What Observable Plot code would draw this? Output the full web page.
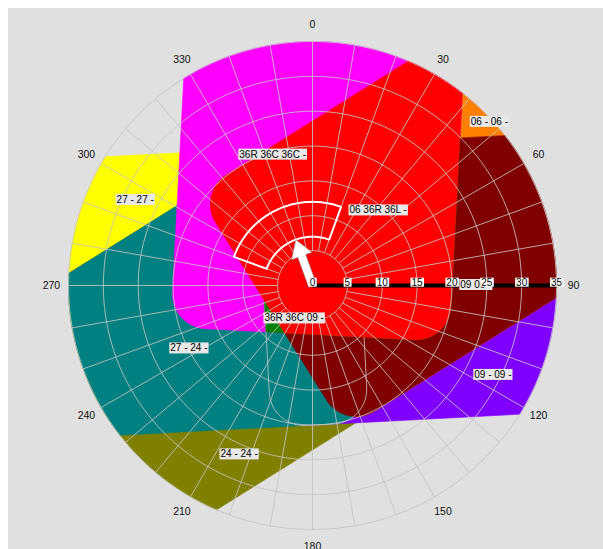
<!DOCTYPE html>
<html>
<head>
<meta charset="utf-8">
<script src="https://cdn.jsdelivr.net/npm/d3@7"></script>
<script src="https://cdn.jsdelivr.net/npm/@observablehq/plot@0.6"></script>
<style>
html, body { margin: 0; padding: 0; background: #ffffff; overflow: hidden; }
#chart { position: absolute; left: 8px; top: 8px; }
</style>
</head>
<body>
<div id="chart"></div>
<script>
// ---------------- data ----------------
const runwayNames = ["36", "06", "09", "24", "27"];
const runwayHeadings = [3, 58, 87, 238, 267];      // true headings (deg)
const crosswindLimit = 20;                          // kt
const tailwindLimit = 7;                            // kt
const cornerRadius = 5;                             // kt
const maxSpeed = 35;                                // kt (outer ring)

// zones in drawing order (lowest preference first)
const zoneLabels  = ["27 - 27 -", "24 - 24 -", "09 - 09 -", "06 - 06 -", "27 - 24 -", "36R 36C 36C -", "09 06 -", "36R 36C 09 -", "06 36R 36L -"];
const zoneRunways = [["27"], ["24"], ["09"], ["06"], ["27", "24"], ["36"], ["09", "06"], ["36", "09"], ["06", "36"]];
const zoneColors  = ["#ffff00", "#808000", "#8000ff", "#ff8000", "#008080", "#ff00ff", "#800000", "#008000", "#ff0000"];
const zoneLabelX  = [-28.1, -13.2, 23.2, 22.7, -20.4, -10.5, 21.2, -6.9, 5.3];   // kt east
const zoneLabelY  = [12.3, -24.2, -12.8, 23.5, -9.0, 18.8, 0.1, -4.7, 10.8];     // kt north
const outlineRunways = ["09", "27"];   // faint outline drawn under the top zones
const outlineAfterZone = 6;

// current wind
const windDirection = 340, windSpeed = 7;
const windDirFrom = 290, windDirTo = 20, windSpeedMin = 7, windSpeedMax = 12;

// axes / grid
const speedTicks = [0, 5, 10, 15, 20, 25, 30, 35];
const directionTicks = [0, 30, 60, 90, 120, 150, 180, 210, 240, 270, 300, 330];
const gridCircles = [5, 10, 15, 20, 25, 30, 35];
const gridSpokes = d3.range(0, 360, 10);
const innerSpokeRadius = 5;
const directionLabelRadius = 37.45;

// ---------------- geometry helpers ----------------
const rad = d => d * Math.PI / 180;
const polar = (dir, spd) => [spd * Math.sin(rad(dir)), spd * Math.cos(rad(dir))];

function runwayZone(heading) {
  const c = crosswindLimit, t = tailwindLimit, r = cornerRadius, H = 80;
  const uv = [[H, -c]];
  for (let a = -90; a >= -180; a -= 5) uv.push([-t + r + r * Math.cos(rad(a)), -c + r + r * Math.sin(rad(a))]);
  for (let a = 180; a >= 90; a -= 5) uv.push([-t + r + r * Math.cos(rad(a)), c - r + r * Math.sin(rad(a))]);
  uv.push([H, c]);
  const s = Math.sin(rad(heading)), co = Math.cos(rad(heading));
  return uv.map(([u, v]) => [u * s + v * co, u * co - v * s]);
}
function area(p) {
  let s = 0;
  for (let i = 0; i < p.length; i++) { const [x1, y1] = p[i], [x2, y2] = p[(i + 1) % p.length]; s += x1 * y2 - x2 * y1; }
  return s / 2;
}
function clip(subject, clipper) {
  const sign = Math.sign(area(clipper));
  let out = subject;
  for (let i = 0; i < clipper.length && out.length; i++) {
    const A = clipper[i], B = clipper[(i + 1) % clipper.length];
    const side = P => sign * ((B[0] - A[0]) * (P[1] - A[1]) - (B[1] - A[1]) * (P[0] - A[0]));
    const input = out; out = [];
    for (let j = 0; j < input.length; j++) {
      const P = input[j], Q = input[(j + 1) % input.length];
      const sp = side(P), sq = side(Q);
      if (sp >= 0) out.push(P);
      if ((sp >= 0) !== (sq >= 0)) { const t = sp / (sp - sq); out.push([P[0] + t * (Q[0] - P[0]), P[1] + t * (Q[1] - P[1])]); }
    }
  }
  return out;
}
const rwy = name => runwayZone(runwayHeadings[runwayNames.indexOf(name)]);
const circlePoly = d3.range(0, 360, 1).map(a => polar(a, maxSpeed));
const regionOf = names => names.reduce((poly, n) => clip(poly, rwy(n)), circlePoly);
const rows = (poly, key) => poly.map(([x, y]) => ({key, x, y}));

// ---------------- marks ----------------
const gridStyle = {stroke: "#c4c4c4", strokeOpacity: 0.85, strokeWidth: 1};
const marks = [];
zoneLabels.forEach((label, i) => {
  marks.push(Plot.line(rows(regionOf(zoneRunways[i]), label), {
    x: "x", y: "y", curve: "linear-closed", fill: zoneColors[i], stroke: zoneColors[i], strokeWidth: 0.6
  }));
  if (i === outlineAfterZone) {
    marks.push(Plot.line(rows(regionOf(outlineRunways), "outline"), {x: "x", y: "y", curve: "linear-closed", fill: "none", ...gridStyle}));
  }
});

// grid circles
const circleRows = gridCircles.flatMap(s => d3.range(0, 361, 2).map(a => ({key: s, x: polar(a, s)[0], y: polar(a, s)[1]})));
marks.push(Plot.line(circleRows, {x: "x", y: "y", z: "key", ...gridStyle}));
// spokes
marks.push(Plot.link(gridSpokes, {
  x1: d => polar(d, innerSpokeRadius)[0], y1: d => polar(d, innerSpokeRadius)[1],
  x2: d => polar(d, maxSpeed)[0], y2: d => polar(d, maxSpeed)[1], ...gridStyle
}));

// wind variability sector
const sectorTo = windDirTo < windDirFrom ? windDirTo + 360 : windDirTo;
const sectorRows = [
  ...d3.range(windDirFrom, sectorTo + 0.01, 2).map(a => polar(a, windSpeedMax)),
  ...d3.range(sectorTo, windDirFrom - 0.01, -2).map(a => polar(a, windSpeedMin))
].map(([x, y]) => ({x, y}));
marks.push(Plot.line(sectorRows, {x: "x", y: "y", curve: "linear-closed", stroke: "white", strokeWidth: 2, fill: "none", strokeLinejoin: "miter"}));

// wind arrow (shape proportions in kt)
const shaftHalf = 0.6, headHalf = 1.55, headLen = 2.5;
const ea = [Math.sin(rad(windDirection)), Math.cos(rad(windDirection))];
const ep = [Math.cos(rad(windDirection)), -Math.sin(rad(windDirection))];
const arrowRows = [[0, -shaftHalf], [windSpeed - headLen, -shaftHalf], [windSpeed - headLen, -headHalf], [windSpeed, 0],
  [windSpeed - headLen, headHalf], [windSpeed - headLen, shaftHalf], [0, shaftHalf]]
  .map(([a, p]) => ({x: a * ea[0] + p * ep[0], y: a * ea[1] + p * ep[1]}));
marks.push(Plot.line(arrowRows, {x: "x", y: "y", curve: "linear-closed", fill: "white", stroke: "#8a8a8a", strokeWidth: 0.6, strokeLinejoin: "miter"}));

// speed axis line
marks.push(Plot.link([0], {x1: 0, y1: 0, x2: maxSpeed, y2: 0, stroke: "black", strokeWidth: 4, strokeLinecap: "butt"}));

// direction labels
marks.push(Plot.text(directionTicks, {
  x: d => polar(d, directionLabelRadius)[0], y: d => polar(d, directionLabelRadius)[1],
  text: d => String(d), fontSize: 10.5, fill: "#111"
}));

// zone labels
marks.push(Plot.text(zoneLabels, {
  x: (d, i) => zoneLabelX[i], y: (d, i) => zoneLabelY[i], text: d => d,
  textAnchor: "start", fontSize: 10, fill: "black", ariaDescription: "zone labels"
}));

// speed tick labels
marks.push(Plot.text(speedTicks, {
  x: d => d, y: 0, text: d => String(d), fontSize: 10, fill: "black", dy: -3, ariaDescription: "speed ticks"
}));

const plot = Plot.plot({
  width: 595,
  height: 541,
  x: {domain: [-maxSpeed, maxSpeed], range: [60, 548], axis: null},
  y: {domain: [-maxSpeed, maxSpeed], range: [521, 33], axis: null},
  style: {background: "#e0e0e0", fontFamily: "'Liberation Sans', Arial, sans-serif", overflow: "visible"},
  marks
});
document.getElementById("chart").appendChild(plot);

// label background boxes
const svg = d3.select(plot);
for (const [label, color, padX, padY] of [["zone labels", "#e8e8e8", 1, 0], ["speed ticks", "#ffffff", 1, -1]]) {
  svg.selectAll(`g[aria-description="${label}"] text`).each(function () {
    const b = this.getBBox();
    const r = document.createElementNS("http://www.w3.org/2000/svg", "rect");
    r.setAttribute("x", b.x - padX);
    r.setAttribute("y", b.y - padY);
    r.setAttribute("width", b.width + 2 * padX);
    r.setAttribute("height", b.height + 2 * padY);
    r.setAttribute("fill", color);
    const tr = this.getAttribute("transform");
    if (tr) r.setAttribute("transform", tr);
    this.parentNode.insertBefore(r, this);
  });
}
</script>
</body>
</html>
